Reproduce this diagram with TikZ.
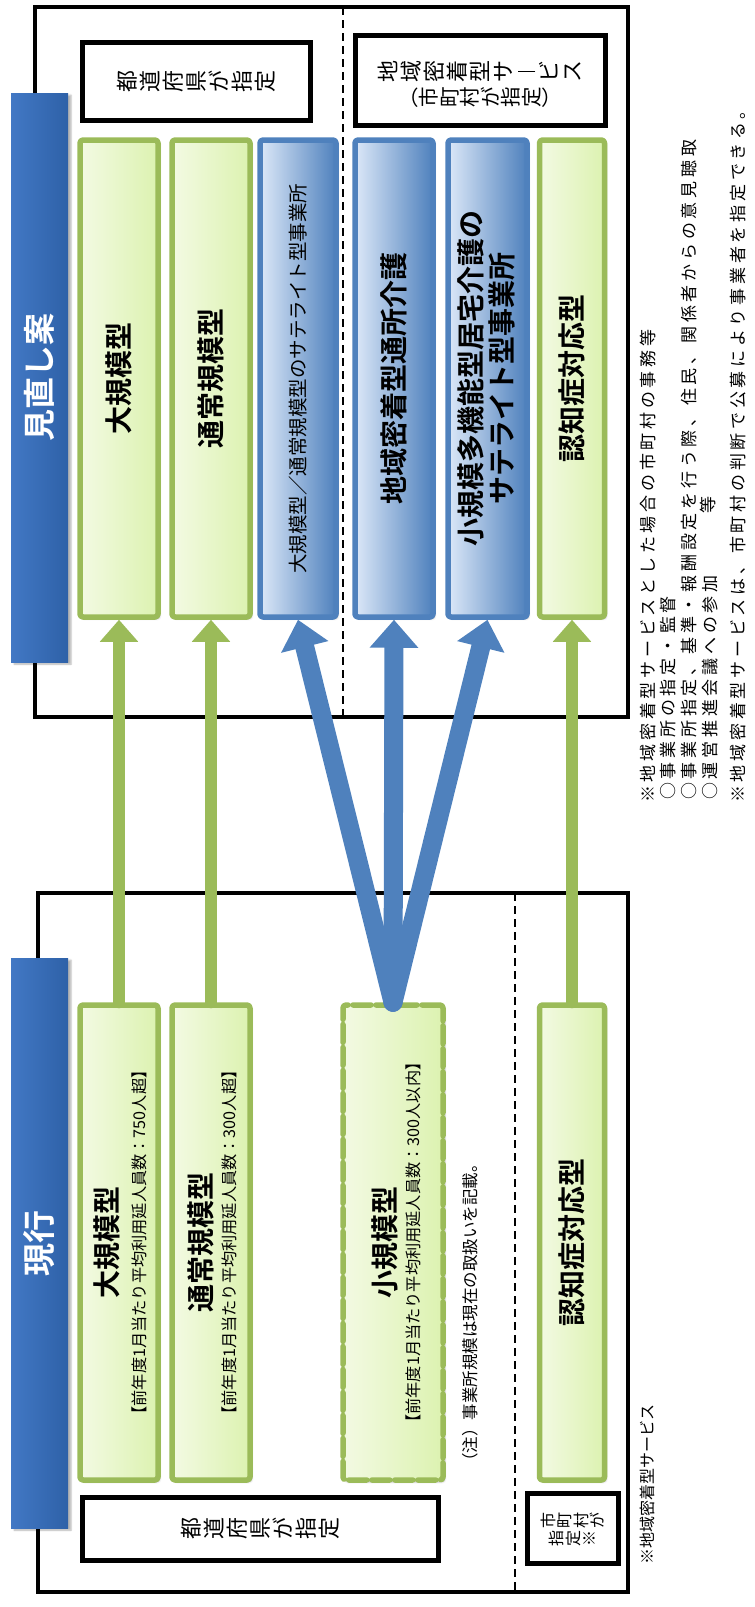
\documentclass[tikz,border=0pt]{standalone}
\usepackage{fontspec}
\newfontfamily\jp{Noto Sans CJK JP}[BoldFont={Noto Sans CJK JP Bold}]
\newfontfamily\jpnote{Noto Sans CJK JP}[LetterSpace=22]
\usetikzlibrary{arrows.meta,shadows.blur}
\definecolor{kgreen}{HTML}{9BBB59}
\definecolor{kgreenL}{HTML}{F3FAE3}
\definecolor{kgreenR}{HTML}{DCF2B0}
\definecolor{kblue}{HTML}{4F81BD}
\definecolor{kblueL}{HTML}{DCE8F8}
\definecolor{kbarL}{HTML}{4278C4}
\definecolor{kbarR}{HTML}{2E61A8}
\newcommand\fs[1]{\fontsize{#1}{#1}\selectfont}
% long vowel and brackets turned for vertical writing
\newcommand\vbar{\rule[-0.02em]{0.07em}{0.8em}}
\newcommand\vopen{\rotatebox[origin=c]{-90}{（}}
\newcommand\vclose{\rotatebox[origin=c]{-90}{）}}

\begin{document}
\begin{tikzpicture}[line cap=round,line join=round,x=1pt,y=-1pt,
  frame/.style={line width=4pt,line join=miter,line cap=butt},
  divider/.style={line width=2pt,line cap=butt,dash pattern=on 8pt off 5pt},
  bar/.style={inner sep=0,left color=kbarL,right color=kbarR,
    blur shadow={shadow xshift=3pt,shadow yshift=-2pt,shadow opacity=30}},
  gbox/.style={inner sep=0,draw=kgreen,line width=5.5pt,rounded corners=3pt,
    left color=kgreenL,right color=kgreenR,
    blur shadow={shadow xshift=2pt,shadow yshift=-2pt,shadow opacity=25}},
  bbox/.style={inner sep=0,draw=kblue,line width=5.5pt,rounded corners=3pt,
    left color=kblueL,right color=kblue,
    blur shadow={shadow xshift=2pt,shadow yshift=-2pt,shadow opacity=25}},
  kbox/.style={inner sep=0,draw,line width=5pt,line join=miter,fill=white},
  txt/.style={rotate=90,inner sep=0},
  tate/.style={rotate=90,inner sep=0,align=center},
  note/.style={txt,font=\jpnote\fs{17},anchor=west},
  garrow/.style={draw=kgreen,line width=12pt,-{Triangle[width=37pt,length=22pt]}},
  barrow/.style={draw=kblue,line width=19pt,-{Triangle[width=47pt,length=28pt]}}]
\useasboundingbox (0,0) rectangle (755,1607);

% frames and dividers
\draw[frame] (35,7) rectangle (628,717);
\draw[frame] (38,893) rectangle (628,1592);
\draw[divider] (343,7) -- (343,717);
\draw[divider] (515,893) -- (515,1592);

% side labels
\node[bar,minimum width=57,minimum height=569] (bar1) at (39.5,377.5) {};
\node[txt,font=\jp\bfseries\fs{32},text=white] (bar1x) at (bar1) {見直し案};
\node[bar,minimum width=57,minimum height=570] (bar2) at (39.5,1243) {};
\node[txt,font=\jp\bfseries\fs{33},text=white] (bar2x) at (bar2) {現行};

% designation boxes (vertical writing)
\node[kbox,minimum width=228,minimum height=78] (k1) at (196,81) {};
\node[tate,font=\jp\fontsize{22}{23}\selectfont] (k1x) at (k1) {都\\道\\府\\県\\が\\指\\定};
\node[kbox,minimum width=250,minimum height=90] (k2) at (480,80) {};
\node[tate,font=\jp\fontsize{22}{23}\selectfont] (k2x) at ([yshift=8.5]k2.center)
  {地\\域\\密\\着\\型\\サ\\\vbar\\ビ\\ス};
\node[tate,font=\jp\fontsize{20.5}{20.5}\selectfont] (k2y) at ([yshift=-17.5]k2.center)
  {\vopen\\市\\町\\村\\が\\指\\定\\\vclose};
\node[kbox,minimum width=356,minimum height=63] (k3) at (260,1528.5) {};
\node[tate,font=\jp\fontsize{22}{23}\selectfont] (k3x) at (k3) {都\\道\\府\\県\\が\\指\\定};
\node[kbox,minimum width=91,minimum height=70] (k4) at (572.5,1528) {};
\node[tate,font=\jp\fontsize{16}{16.5}\selectfont] (k4x) at ([yshift=8]k4.center) {市\\町\\村\\が};
\node[tate,font=\jp\fontsize{16}{16.5}\selectfont] (k4y) at ([yshift=-10]k4.center) {指\\定\\※};

% revised services
\node[gbox,minimum width=78,minimum height=477] (t1) at (119,378.5) {};
\node[gbox,minimum width=78,minimum height=477] (t2) at (211,378.5) {};
\node[bbox,minimum width=76,minimum height=477] (t3) at (298,378.5) {};
\node[bbox,minimum width=78,minimum height=477] (t4) at (394,378.5) {};
\node[bbox,minimum width=79,minimum height=477] (t5) at (487.5,378.5) {};
\node[gbox,minimum width=65,minimum height=477] (t6) at (572,378.5) {};

\node[txt,font=\jp\bfseries\fs{28}] (t1x) at (t1) {大規模型};
\node[txt,font=\jp\bfseries\fs{28}] (t2x) at (t2) {通常規模型};
\node[txt,font=\jp\fs{19.5}] (t3x) at (t3) {大規模型／通常規模型のサテライト型事業所};
\node[txt,font=\jp\bfseries\fs{28}] (t4x) at (t4) {地域密着型通所介護};
\node[txt,font=\jp\bfseries\fs{28}] (t5x) at ([xshift=-17]t5.center) {小規模多機能型居宅介護の};
\node[txt,font=\jp\bfseries\fs{28}] (t5y) at ([xshift=14]t5.center) {サテライト型事業所};
\node[txt,font=\jp\bfseries\fs{28}] (t6x) at (t6) {認知症対応型};

% current services
\node[gbox,minimum width=78,minimum height=475] (b1) at (119,1242.5) {};
\node[gbox,minimum width=78,minimum height=475] (b2) at (211,1242.5) {};
\node[gbox,minimum width=100,minimum height=475,dash pattern=on 18pt off 5pt] (b3) at (393,1242.5) {};
\node[gbox,minimum width=65,minimum height=475] (b4) at (572,1242.5) {};

\node[txt,font=\jp\bfseries\fs{28}] (b1x) at ([xshift=-12]b1.center) {大規模型};
\node[txt,font=\jp\fs{16.2}] (b1y) at ([xshift=20]b1.center) {【前年度1月当たり平均利用延人員数：750人超】};
\node[txt,font=\jp\bfseries\fs{28}] (b2x) at ([xshift=-10]b2.center) {通常規模型};
\node[txt,font=\jp\fs{16.2}] (b2y) at ([xshift=18]b2.center) {【前年度1月当たり平均利用延人員数：300人超】};
\node[txt,font=\jp\bfseries\fs{28}] (b3x) at ([xshift=-8]b3.center) {小規模型};
\node[txt,font=\jp\fs{16.2}] (b3y) at ([xshift=20]b3.center) {【前年度1月当たり平均利用延人員数：300人以内】};
\node[txt,font=\jp\bfseries\fs{28}] (b4x) at (b4) {認知症対応型};
\node[txt,font=\jp\fs{16.5},anchor=west] (notex) at (470,1470) {（注）事業所規模は現在の取扱いを記載。};

% transitions
\draw[garrow] (b1.north) -- (t1.south);
\draw[garrow] (b2.north) -- (t2.south);
\draw[garrow] (b4.north) -- (t6.south);
\draw[barrow] (b3.north) -- (t3.south);
\draw[barrow] (b3.north) -- (t4.south);
\draw[barrow] (b3.north) -- (t5.south);

% footnotes
\node[note] (f1) at (648,803) {※地域密着型サービスとした場合の市町村の事務等};
\node[note] (f2) at (668,800) {○事業所の指定・監督};
\node[note] (f3) at (689,800) {○事業所指定、基準・報酬設定を行う際、住民、関係者からの意見聴取};
\node[note] (f4) at (710,800) {○運営推進会議への参加};
\node[txt,font=\jpnote\fs{17}] (f4b) at (708,505) {等};
\node[note] (f5) at (738,803) {※地域密着型サービスは、市町村の判断で公募により事業者を指定できる。};
\node[txt,font=\jp\fs{16},anchor=west] (f6) at (647,1565) {※地域密着型サービス};
\end{tikzpicture}
\end{document}
